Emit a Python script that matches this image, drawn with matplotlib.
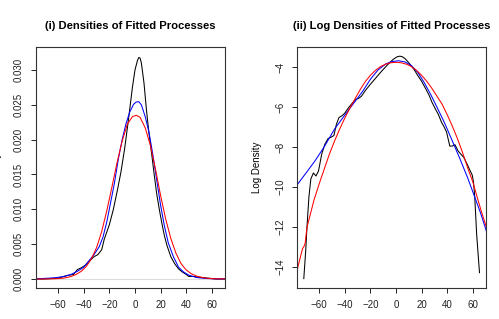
import matplotlib
matplotlib.use("Agg")
import matplotlib.pyplot as plt

plt.rcParams['font.family'] = ['Liberation Sans', 'DejaVu Sans']

x_preto_d = [-77, -72, -68, -64, -60, -56, -52, -48, -45, -42, -39, -36, -32, -29, -26, -24, -20,
             -17, -14, -11, -8, -5, -2, 0, 2, 3, 4, 5, 7, 9, 11, 13, 15, 17, 19, 21, 23, 25, 28,
             31, 34, 37, 40, 42, 46, 49, 53, 56, 59, 61, 63, 65, 70]
y_preto_d = [0.0, 0.0, 0.00003, 0.00009, 0.00011, 0.00035, 0.00054, 0.00065, 0.00135, 0.0016,
             0.00195, 0.0025, 0.0032, 0.0035, 0.0042, 0.0057, 0.0078, 0.0099, 0.0125, 0.0153,
             0.0188, 0.0230, 0.0275, 0.0300, 0.0314, 0.0318, 0.0317, 0.0310, 0.0282, 0.0242,
             0.0208, 0.0180, 0.0150, 0.0122, 0.0100, 0.0080, 0.0062, 0.0048, 0.0032, 0.0022,
             0.00145, 0.0010, 0.00065, 0.00036, 0.00037, 0.00027, 0.0002, 0.00014, 0.00009,
             0.00005, 0.0, 0.0, 0.0]

x_azul_d = [-77, -70, -63, -56, -50, -45, -40, -36, -32, -28, -25, -22, -19, -16, -13, -10, -7,
            -4, -1, 1, 3, 5, 8, 11, 14, 17, 20, 23, 26, 30, 34, 38, 42, 48, 55, 62, 70]
y_azul_d = [0.00005, 0.00009, 0.00017, 0.00034, 0.00065, 0.0011, 0.0017, 0.0026, 0.0035, 0.0046,
            0.0060, 0.0082, 0.0110, 0.0138, 0.0172, 0.0200, 0.0223, 0.0240, 0.0251, 0.0254,
            0.02545, 0.0250, 0.0233, 0.0210, 0.0178, 0.0142, 0.0106, 0.0076, 0.0052, 0.0032,
            0.0017, 0.0010, 0.00055, 0.00022, 0.00008, 0.00003, 0.00001]

x_verm_d = [-77, -68, -62, -56, -50, -46, -42, -38, -34, -30, -26, -22, -18, -14, -10, -6, -2,
            1, 4, 8, 12, 16, 20, 24, 28, 32, 36, 40, 44, 48, 54, 60, 70]
y_verm_d = [0.0, 0.00001, 0.00004, 0.00012, 0.00035, 0.00065, 0.0011, 0.0018, 0.0029, 0.0045,
            0.0068, 0.0098, 0.0132, 0.0167, 0.0198, 0.0222, 0.0233, 0.0235, 0.0232, 0.0217,
            0.0192, 0.0158, 0.0120, 0.0086, 0.0058, 0.0037, 0.0022, 0.0013, 0.00075, 0.00042,
            0.00016, 0.00005, 0.00001]

x_preto_l = [-72, -70.5, -69.5, -68, -66.5, -64.5, -62.5, -60.5, -58, -55.5, -53, -50.5, -48.5,
             -46.5, -44.5, -42, -40, -37, -33.5, -31, -29, -27, -24, -20, -16, -12, -8, -5, -2,
             1, 3, 5, 7, 9, 11, 14, 17, 20, 23, 26, 28, 31, 33, 35.5, 37.5, 39.5, 42, 44, 46,
             48.5, 51, 53, 55.5, 58, 59.5, 60.5, 61.5, 63, 65.2]
y_preto_l = [-14.6, -13.2, -12.0, -10.5, -9.6, -9.3, -9.45, -9.2, -8.35, -7.85, -7.57, -7.5, -7.42,
             -6.85, -6.52, -6.42, -6.3, -6.02, -5.75, -5.6, -5.55, -5.45, -5.17, -4.85, -4.55,
             -4.25, -3.97, -3.77, -3.59, -3.47, -3.44, -3.47, -3.56, -3.7, -3.85, -4.1, -4.41,
             -4.7, -5.05, -5.42, -5.74, -6.12, -6.35, -6.75, -6.98, -7.25, -7.95, -7.95, -7.88,
             -8.2, -8.38, -8.52, -8.85, -9.2, -9.4, -9.75, -10.5, -12.4, -14.3]

x_azul_l = [-77.5, -70, -63, -56, -48, -40, -33, -26, -20, -14, -8, -3, 2, 7, 12, 17, 22, 27,
            32, 38, 44, 50, 56, 62, 66, 70.5]
y_azul_l = [-9.92, -9.28, -8.67, -7.98, -7.1, -6.4, -5.8, -5.2, -4.6, -4.13, -3.83, -3.71, -3.67,
            -3.73, -3.91, -4.25, -4.76, -5.35, -6.0, -6.8, -7.7, -8.6, -9.55, -10.6, -11.3, -12.2]

x_verm_l = [-77.5, -75, -73, -72, -71, -70, -69.4, -67, -64, -60, -56, -52, -48, -44, -40, -36,
            -32, -28, -24, -20, -16, -12, -8, -4, 0, 4, 8, 12, 16, 20, 24, 28, 32, 36, 40, 44,
            48, 52, 56, 60, 64, 67, 70.5]
y_verm_l = [-14.25, -13.6, -13.1, -13.0, -12.85, -12.3, -12.0, -11.4, -10.65, -9.85, -9.1, -8.35,
            -7.7, -7.1, -6.55, -6.05, -5.58, -5.12, -4.72, -4.4, -4.15, -3.96, -3.84, -3.77,
            -3.75, -3.77, -3.84, -3.96, -4.15, -4.4, -4.7, -5.05, -5.45, -5.85, -6.38, -6.95,
            -7.58, -8.28, -9.05, -9.75, -10.65, -11.3, -12.0]

xticks = [-60, -40, -20, 0, 20, 40, 60]
yticks_d = [0.000, 0.005, 0.010, 0.015, 0.020, 0.025, 0.030]
yticks_l = [-14, -12, -10, -8, -6, -4]

fig = plt.figure(figsize=(4.99, 3.19), dpi=100)
ax1 = fig.add_axes([0.0721, 0.0972, 0.3788, 0.7555])
ax2 = fig.add_axes([0.5952, 0.0972, 0.3788, 0.7555])


def estilo_r(ax):
    for s in ax.spines.values():
        s.set_linewidth(0.8)
        s.set_color("#333333")
    ax.tick_params(direction="out", length=3.6, width=0.7, labelsize=7, pad=5, colors="#222222")
    ax.set_xticks(xticks)
    ax.set_xlim(-77.3, 70.3)
    ax.yaxis.set_label_coords(-0.183, 0.5)


# ----- FIGURA (i): densidades -----
ax1.axhline(0, color="#dddddd", lw=0.8, zorder=0)
ax1.plot(x_preto_d, y_preto_d, color="black", lw=0.75)
ax1.plot(x_azul_d, y_azul_d, color="blue", lw=0.75)
ax1.plot(x_verm_d, y_verm_d, color="red", lw=0.75)
estilo_r(ax1)
ax1.set_ylim(-0.00129, 0.0333)
ax1.set_yticks(yticks_d)
ax1.set_yticklabels(["%.3f" % v for v in yticks_d], rotation=90, va="center")
ax1.set_ylabel("Density", fontsize=7)
ax1.set_title("(i) Densities of Fitted Processes", fontsize=8.1, fontweight="bold", pad=13)

# ----- FIGURA (ii): log-densidades -----
ax2.plot(x_preto_l, y_preto_l, color="black", lw=0.75)
ax2.plot(x_azul_l, y_azul_l, color="blue", lw=0.75)
ax2.plot(x_verm_l, y_verm_l, color="red", lw=0.75)
estilo_r(ax2)
ax2.set_ylim(-15.07, -2.98)
ax2.set_yticks(yticks_l)
ax2.set_yticklabels([str(v).replace("-", "\u2212") for v in yticks_l], rotation=90, va="center")
ax2.set_ylabel("Log Density", fontsize=7)
ax2.set_title("(ii) Log Densities of Fitted Processes", fontsize=8.1, fontweight="bold", pad=13)

fig.savefig("out.png", dpi=100)
